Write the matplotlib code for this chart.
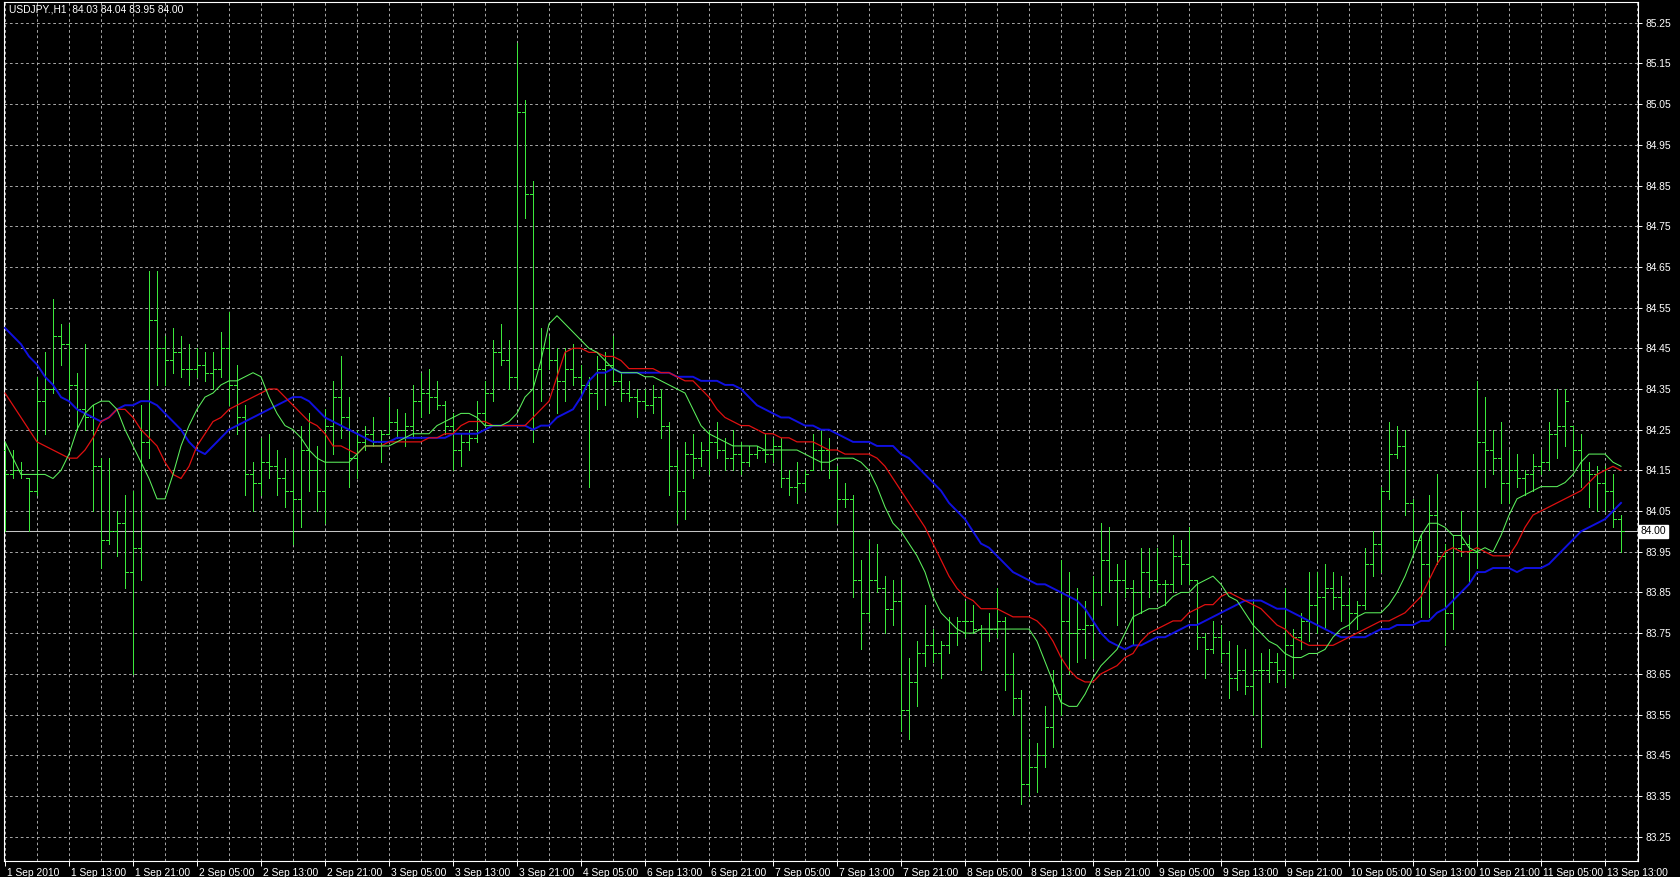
import matplotlib
matplotlib.use('Agg')
import matplotlib.pyplot as plt
import matplotlib.transforms as mtransforms
import numpy as np

# ---------------- data ----------------
highs = [84.22, 84.20, 84.17, 84.13, 84.38, 84.44, 84.57, 84.51, 84.51, 84.39,
         84.46, 84.31, 84.18, 84.18, 84.05, 84.09, 84.10, 84.31, 84.64, 84.64,
         84.48, 84.50, 84.48, 84.46, 84.45, 84.44, 84.44, 84.49, 84.54, 84.41,
         84.31, 84.17, 84.23, 84.24, 84.20, 84.18, 84.20, 84.26, 84.29, 84.21,
         84.30, 84.37, 84.43, 84.33, 84.25, 84.26, 84.28, 84.25, 84.33, 84.30,
         84.29, 84.36, 84.39, 84.40, 84.37, 84.32, 84.29, 84.24, 84.25, 84.32,
         84.37, 84.47, 84.51, 84.47, 85.20, 85.06, 84.86, 84.50, 84.48, 84.45,
         84.45, 84.46, 84.41, 84.38, 84.43, 84.44, 84.48, 84.39, 84.37, 84.35,
         84.35, 84.36, 84.35, 84.27, 84.20, 84.22, 84.24, 84.22, 84.25, 84.27,
         84.23, 84.25, 84.22, 84.21, 84.21, 84.24, 84.23, 84.23, 84.15, 84.17,
         84.15, 84.24, 84.25, 84.23, 84.16, 84.12, 84.09, 83.93, 83.98, 83.97,
         83.89, 83.88, 83.88, 83.69, 83.73, 83.82, 83.76, 83.73, 83.79, 83.79,
         83.83, 83.82, 83.77, 83.80, 83.86, 83.79, 83.70, 83.61, 83.49, 83.48,
         83.57, 83.66, 83.93, 83.90, 83.86, 83.83, 83.89, 84.02, 84.01, 83.92,
         83.93, 83.88, 83.96, 83.96, 83.96, 83.88, 83.99, 83.98, 84.01, 83.88,
         83.75, 83.78, 83.77, 83.73, 83.72, 83.71, 83.83, 83.70, 83.71, 83.70,
         83.86, 83.76, 83.80, 83.90, 83.90, 83.92, 83.90, 83.89, 83.86, 83.83,
         83.96, 84.00, 84.11, 84.27, 84.26, 84.25, 84.08, 83.99, 84.09, 84.14,
         83.97, 83.99, 84.05, 83.99, 84.37, 84.33, 84.25, 84.27, 84.20, 84.19,
         84.15, 84.19, 84.20, 84.27, 84.35, 84.35, 84.26, 84.24, 84.17, 84.16,
         84.16, 84.14, 84.04]

lows = [84.00, 84.13, 84.13, 84.00, 84.09, 84.24, 84.34, 84.41, 84.32, 84.25,
        84.25, 84.05, 83.91, 83.97, 83.94, 83.86, 83.65, 83.88, 84.18, 84.36,
        84.36, 84.39, 84.38, 84.36, 84.38, 84.37, 84.35, 84.38, 84.31, 84.24,
        84.09, 84.05, 84.09, 84.13, 84.09, 84.06, 83.97, 84.01, 84.10, 84.05,
        84.02, 84.19, 84.23, 84.11, 84.13, 84.20, 84.21, 84.17, 84.24, 84.23,
        84.21, 84.23, 84.28, 84.29, 84.30, 84.24, 84.15, 84.16, 84.20, 84.22,
        84.26, 84.32, 84.41, 84.35, 84.35, 84.77, 84.22, 84.32, 84.40, 84.29,
        84.32, 84.36, 84.33, 84.11, 84.30, 84.31, 84.36, 84.32, 84.32, 84.28,
        84.30, 84.29, 84.23, 84.09, 84.02, 84.03, 84.13, 84.16, 84.14, 84.18,
        84.15, 84.15, 84.14, 84.16, 84.18, 84.17, 84.17, 84.11, 84.09, 84.07,
        84.10, 84.15, 84.15, 84.13, 84.02, 84.06, 83.84, 83.71, 83.78, 83.85,
        83.75, 83.77, 83.51, 83.49, 83.57, 83.67, 83.68, 83.64, 83.70, 83.72,
        83.74, 83.75, 83.66, 83.73, 83.74, 83.61, 83.55, 83.33, 83.35, 83.36,
        83.42, 83.47, 83.55, 83.65, 83.68, 83.69, 83.69, 83.82, 83.85, 83.77,
        83.84, 83.72, 83.80, 83.84, 83.85, 83.82, 83.85, 83.87, 83.87, 83.71,
        83.64, 83.70, 83.68, 83.59, 83.61, 83.60, 83.55, 83.47, 83.63, 83.63,
        83.62, 83.64, 83.71, 83.73, 83.75, 83.76, 83.81, 83.78, 83.76, 83.76,
        83.81, 83.89, 83.90, 84.08, 84.18, 84.04, 83.95, 83.79, 83.79, 83.92,
        83.72, 83.76, 83.94, 83.87, 83.91, 84.11, 84.14, 84.07, 84.07, 84.11,
        84.09, 84.10, 84.14, 84.15, 84.18, 84.21, 84.15, 84.11, 84.06, 84.05,
        84.05, 84.01, 83.95]

opens = [84.20, 84.14, 84.15, 84.13, 84.10, 84.32, 84.35, 84.48, 84.46, 84.36,
         84.30, 84.28, 84.16, 83.98, 84.00, 84.02, 83.90, 83.96, 84.22, 84.52,
         84.45, 84.42, 84.44, 84.40, 84.40, 84.41, 84.39, 84.40, 84.45, 84.36,
         84.28, 84.14, 84.12, 84.17, 84.16, 84.13, 84.10, 84.08, 84.20, 84.15,
         84.10, 84.26, 84.33, 84.28, 84.18, 84.22, 84.24, 84.22, 84.24, 84.27,
         84.25, 84.26, 84.32, 84.34, 84.33, 84.31, 84.26, 84.20, 84.22, 84.23,
         84.29, 84.34, 84.44, 84.42, 84.38, 85.03, 84.83, 84.40, 84.45, 84.42,
         84.37, 84.40, 84.38, 84.36, 84.34, 84.40, 84.41, 84.37, 84.34, 84.33,
         84.32, 84.31, 84.33, 84.26, 84.16, 84.10, 84.19, 84.18, 84.20, 84.22,
         84.20, 84.18, 84.19, 84.17, 84.19, 84.20, 84.19, 84.21, 84.13, 84.11,
         84.12, 84.15, 84.20, 84.20, 84.15, 84.08, 84.08, 83.88, 83.80, 83.88,
         83.86, 83.81, 83.83, 83.56, 83.63, 83.70, 83.72, 83.70, 83.72, 83.75,
         83.78, 83.78, 83.76, 83.75, 83.76, 83.78, 83.65, 83.59, 83.38, 83.42,
         83.45, 83.52, 83.60, 83.78, 83.75, 83.76, 83.77, 83.85, 83.93, 83.88,
         83.88, 83.86, 83.85, 83.90, 83.88, 83.87, 83.87, 83.94, 83.92, 83.88,
         83.74, 83.71, 83.74, 83.70, 83.64, 83.66, 83.62, 83.66, 83.66, 83.68,
         83.66, 83.72, 83.74, 83.78, 83.82, 83.84, 83.86, 83.84, 83.82, 83.80,
         83.82, 83.92, 83.97, 84.10, 84.19, 84.21, 84.07, 83.98, 83.92, 84.04,
         83.94, 83.80, 83.96, 83.97, 83.95, 84.22, 84.20, 84.18, 84.12, 84.15,
         84.13, 84.14, 84.16, 84.17, 84.24, 84.26, 84.26, 84.20, 84.15, 84.14,
         84.12, 84.10, 84.03]

closes = [84.14, 84.15, 84.14, 84.10, 84.32, 84.35, 84.48, 84.46, 84.36, 84.30,
          84.28, 84.16, 83.98, 84.00, 84.02, 83.90, 83.96, 84.22, 84.52, 84.45,
          84.42, 84.44, 84.40, 84.40, 84.41, 84.39, 84.40, 84.45, 84.36, 84.28,
          84.14, 84.12, 84.17, 84.16, 84.13, 84.10, 84.08, 84.20, 84.15, 84.10,
          84.26, 84.33, 84.28, 84.18, 84.22, 84.24, 84.22, 84.24, 84.27, 84.25,
          84.26, 84.32, 84.34, 84.33, 84.31, 84.26, 84.20, 84.22, 84.23, 84.29,
          84.34, 84.44, 84.42, 84.38, 85.03, 84.83, 84.40, 84.45, 84.42, 84.37,
          84.40, 84.38, 84.36, 84.34, 84.40, 84.41, 84.37, 84.34, 84.33, 84.32,
          84.31, 84.33, 84.26, 84.16, 84.10, 84.19, 84.18, 84.20, 84.22, 84.20,
          84.18, 84.19, 84.17, 84.19, 84.20, 84.19, 84.21, 84.13, 84.11, 84.12,
          84.14, 84.20, 84.20, 84.15, 84.08, 84.08, 83.88, 83.80, 83.88, 83.86,
          83.81, 83.83, 83.56, 83.63, 83.70, 83.72, 83.70, 83.72, 83.75, 83.78,
          83.78, 83.76, 83.75, 83.76, 83.78, 83.65, 83.59, 83.38, 83.42, 83.45,
          83.52, 83.60, 83.78, 83.75, 83.76, 83.77, 83.85, 83.93, 83.88, 83.88,
          83.86, 83.85, 83.90, 83.88, 83.87, 83.87, 83.94, 83.92, 83.88, 83.74,
          83.71, 83.74, 83.70, 83.64, 83.66, 83.62, 83.66, 83.66, 83.68, 83.66,
          83.72, 83.74, 83.78, 83.82, 83.84, 83.86, 83.84, 83.82, 83.80, 83.82,
          83.92, 83.97, 84.10, 84.19, 84.21, 84.07, 83.98, 83.92, 84.04, 83.94,
          83.80, 83.96, 83.97, 83.95, 84.22, 84.20, 84.18, 84.12, 84.15, 84.13,
          84.14, 84.16, 84.17, 84.24, 84.26, 84.32, 84.20, 84.15, 84.14, 84.12,
          84.10, 84.03, 84.00]

ma_fast = [84.22, 84.18, 84.14, 84.14, 84.14, 84.14, 84.13, 84.15, 84.19, 84.25,
           84.29, 84.31, 84.32, 84.32, 84.30, 84.25, 84.21, 84.17, 84.13, 84.08,
           84.08, 84.14, 84.21, 84.26, 84.30, 84.33, 84.34, 84.36, 84.37, 84.37,
           84.38, 84.39, 84.38, 84.33, 84.29, 84.26, 84.25, 84.23, 84.20, 84.18,
           84.17, 84.17, 84.17, 84.17, 84.19, 84.21, 84.21, 84.21, 84.21, 84.22,
           84.23, 84.24, 84.24, 84.24, 84.26, 84.27, 84.28, 84.29, 84.29, 84.28,
           84.26, 84.26, 84.26, 84.27, 84.29, 84.33, 84.35, 84.42, 84.51, 84.53,
           84.51, 84.49, 84.47, 84.45, 84.44, 84.42, 84.40, 84.39, 84.39, 84.39,
           84.38, 84.38, 84.37, 84.36, 84.35, 84.34, 84.30, 84.26, 84.24, 84.23,
           84.22, 84.21, 84.21, 84.21, 84.21, 84.20, 84.20, 84.20, 84.20, 84.20,
           84.19, 84.18, 84.17, 84.17, 84.18, 84.18, 84.18, 84.17, 84.15, 84.11,
           84.06, 84.02, 84.00, 83.97, 83.94, 83.90, 83.84, 83.80, 83.78, 83.76,
           83.75, 83.75, 83.76, 83.76, 83.76, 83.76, 83.76, 83.76, 83.76, 83.73,
           83.68, 83.63, 83.58, 83.57, 83.57, 83.60, 83.64, 83.67, 83.69, 83.71,
           83.75, 83.79, 83.80, 83.81, 83.81, 83.82, 83.84, 83.85, 83.85, 83.87,
           83.88, 83.89, 83.87, 83.84, 83.83, 83.80, 83.77, 83.75, 83.73, 83.72,
           83.70, 83.69, 83.69, 83.70, 83.70, 83.71, 83.74, 83.76, 83.77, 83.79,
           83.80, 83.80, 83.80, 83.82, 83.85, 83.89, 83.94, 83.99, 84.02, 84.02,
           84.01, 83.99, 83.99, 83.96, 83.95, 83.96, 83.95, 83.99, 84.04, 84.08,
           84.09, 84.10, 84.11, 84.11, 84.11, 84.12, 84.14, 84.17, 84.19, 84.19,
           84.19, 84.17, 84.16]

ma_mid = [84.34, 84.31, 84.28, 84.25, 84.22, 84.21, 84.20, 84.19, 84.18, 84.18,
          84.20, 84.23, 84.27, 84.28, 84.30, 84.30, 84.28, 84.25, 84.23, 84.21,
          84.17, 84.14, 84.13, 84.16, 84.21, 84.24, 84.27, 84.28, 84.30, 84.31,
          84.32, 84.33, 84.34, 84.35, 84.35, 84.33, 84.31, 84.29, 84.27, 84.26,
          84.24, 84.21, 84.21, 84.20, 84.19, 84.21, 84.21, 84.21, 84.22, 84.22,
          84.22, 84.22, 84.22, 84.23, 84.23, 84.24, 84.24, 84.26, 84.27, 84.27,
          84.27, 84.26, 84.26, 84.26, 84.26, 84.26, 84.28, 84.30, 84.32, 84.38,
          84.44, 84.45, 84.45, 84.44, 84.44, 84.43, 84.43, 84.42, 84.40, 84.40,
          84.40, 84.40, 84.39, 84.39, 84.38, 84.37, 84.37, 84.35, 84.33, 84.30,
          84.28, 84.27, 84.26, 84.26, 84.25, 84.24, 84.24, 84.23, 84.23, 84.22,
          84.22, 84.22, 84.21, 84.20, 84.20, 84.19, 84.19, 84.19, 84.19, 84.18,
          84.16, 84.13, 84.10, 84.07, 84.04, 84.01, 83.97, 83.93, 83.89, 83.86,
          83.84, 83.83, 83.81, 83.81, 83.81, 83.80, 83.79, 83.79, 83.79, 83.78,
          83.76, 83.73, 83.69, 83.66, 83.64, 83.63, 83.63, 83.65, 83.66, 83.67,
          83.69, 83.70, 83.73, 83.75, 83.76, 83.77, 83.78, 83.78, 83.80, 83.81,
          83.82, 83.82, 83.84, 83.85, 83.84, 83.83, 83.82, 83.81, 83.79, 83.77,
          83.76, 83.74, 83.73, 83.72, 83.72, 83.72, 83.72, 83.73, 83.74, 83.75,
          83.76, 83.77, 83.78, 83.78, 83.79, 83.80, 83.82, 83.84, 83.88, 83.92,
          83.95, 83.96, 83.95, 83.95, 83.96, 83.95, 83.94, 83.94, 83.94, 83.97,
          84.01, 84.04, 84.05, 84.06, 84.07, 84.08, 84.09, 84.10, 84.12, 84.14,
          84.15, 84.16, 84.15]

ma_slow = [84.50, 84.48, 84.46, 84.43, 84.41, 84.38, 84.36, 84.33, 84.32, 84.30,
           84.29, 84.28, 84.27, 84.28, 84.30, 84.31, 84.31, 84.32, 84.32, 84.31,
           84.29, 84.27, 84.25, 84.22, 84.20, 84.19, 84.21, 84.23, 84.25, 84.26,
           84.27, 84.28, 84.29, 84.30, 84.31, 84.32, 84.33, 84.33, 84.32, 84.30,
           84.28, 84.27, 84.26, 84.25, 84.24, 84.23, 84.22, 84.22, 84.22, 84.23,
           84.23, 84.23, 84.23, 84.23, 84.23, 84.23, 84.24, 84.24, 84.24, 84.24,
           84.25, 84.26, 84.26, 84.26, 84.26, 84.26, 84.25, 84.26, 84.26, 84.28,
           84.29, 84.30, 84.33, 84.37, 84.39, 84.39, 84.40, 84.39, 84.39, 84.39,
           84.39, 84.39, 84.39, 84.39, 84.38, 84.38, 84.38, 84.37, 84.37, 84.37,
           84.36, 84.36, 84.35, 84.33, 84.31, 84.30, 84.29, 84.28, 84.28, 84.27,
           84.26, 84.26, 84.25, 84.25, 84.24, 84.23, 84.22, 84.22, 84.22, 84.21,
           84.21, 84.21, 84.19, 84.18, 84.16, 84.14, 84.12, 84.10, 84.07, 84.05,
           84.03, 84.00, 83.97, 83.96, 83.94, 83.92, 83.90, 83.89, 83.88, 83.87,
           83.87, 83.86, 83.85, 83.84, 83.83, 83.81, 83.78, 83.75, 83.73, 83.72,
           83.71, 83.72, 83.72, 83.73, 83.74, 83.74, 83.75, 83.76, 83.77, 83.77,
           83.78, 83.79, 83.80, 83.81, 83.82, 83.83, 83.83, 83.83, 83.82, 83.81,
           83.81, 83.80, 83.79, 83.78, 83.77, 83.76, 83.75, 83.74, 83.74, 83.74,
           83.74, 83.75, 83.76, 83.76, 83.77, 83.77, 83.77, 83.78, 83.78, 83.80,
           83.81, 83.83, 83.85, 83.87, 83.90, 83.90, 83.91, 83.91, 83.91, 83.90,
           83.91, 83.91, 83.91, 83.92, 83.94, 83.96, 83.98, 84.00, 84.01, 84.02,
           84.03, 84.05, 84.07]

time_labels = ['1 Sep 2010', '1 Sep 13:00', '1 Sep 21:00', '2 Sep 05:00', '2 Sep 13:00',
               '2 Sep 21:00', '3 Sep 05:00', '3 Sep 13:00', '3 Sep 21:00', '4 Sep 05:00',
               '6 Sep 13:00', '6 Sep 21:00', '7 Sep 05:00', '7 Sep 13:00', '7 Sep 21:00',
               '8 Sep 05:00', '8 Sep 13:00', '8 Sep 21:00', '9 Sep 05:00', '9 Sep 13:00',
               '9 Sep 21:00', '10 Sep 05:00', '10 Sep 13:00', '10 Sep 21:00', '11 Sep 05:00',
               '13 Sep 13:00']

price_ticks = [83.25, 83.35, 83.45, 83.55, 83.65, 83.75, 83.85, 83.95, 84.05, 84.15,
               84.25, 84.35, 84.45, 84.55, 84.65, 84.75, 84.85, 84.95, 85.05, 85.15, 85.25]

title_text = 'USDJPY.,H1  84.03 84.04 83.95 84.00'
bid_price = 84.00

# ---------------- styling ----------------
W, H = 1680, 877
BAR_COL = '#3be83b'
FAST_COL = '#5cf05c'
MID_COL = '#e01010'
SLOW_COL = '#1010e0'
GRID_COL = '#b4b4b4'
FONT = 'Liberation Sans'
FS = 7.4

fig = plt.figure(figsize=(W / 100, H / 100), dpi=100, facecolor='black')
ax = fig.add_axes([4 / W, 16 / H, 1634 / W, 859 / H], facecolor='black')

n = len(highs)
x = np.arange(n)
bars_per_label = 8
tick_half = 0.32
BAR_LW = 0.72  # one pixel

ax.vlines(x, lows, highs, colors=BAR_COL, linewidth=BAR_LW, antialiased=False, zorder=3)
ax.hlines(opens, x - tick_half, x, colors=BAR_COL, linewidth=BAR_LW, antialiased=False, zorder=3)
ax.hlines(closes, x, x + tick_half, colors=BAR_COL, linewidth=BAR_LW, antialiased=False, zorder=3)

ax.plot(x, ma_slow, color=SLOW_COL, linewidth=1.4, zorder=4)
ax.plot(x, ma_mid, color=MID_COL, linewidth=0.9, zorder=5)
ax.plot(x, ma_fast, color=FAST_COL, linewidth=0.75, zorder=6)

ax.axhline(bid_price, color='#c4c4c4', linewidth=0.75, zorder=2)

ax.set_xlim(-0.125, 204.125)
ax.set_ylim(83.190, 85.301)

label_pos = [bars_per_label * k for k in range(len(time_labels))]
ax.set_xticks(label_pos)
ax.set_xticklabels(time_labels, fontsize=FS, color='white', family=FONT)
for lab in ax.get_xticklabels():
    lab.set_horizontalalignment('left')
ax.set_xticks([p + 4 for p in label_pos], minor=True)
ax.tick_params(axis='x', which='major', direction='out', length=3.5, width=0.7,
               color='white', pad=1.5)
ax.tick_params(axis='x', which='minor', length=0)
offset = mtransforms.ScaledTranslation(1.5 / 72, 0, fig.dpi_scale_trans)
for lab in ax.get_xticklabels():
    lab.set_transform(lab.get_transform() + offset)

ax.yaxis.tick_right()
ax.set_yticks(price_ticks)
ax.set_yticklabels([f'{p:.2f}' for p in price_ticks], fontsize=FS, color='white', family=FONT)
ax.tick_params(axis='y', direction='out', length=3, width=0.7, color='white', pad=2.5)

ax.grid(True, axis='x', which='both', color=GRID_COL, linestyle=(0, (3, 3)), linewidth=0.65, zorder=1)
ax.grid(True, axis='y', which='major', color=GRID_COL, linestyle=(0, (3, 3)), linewidth=0.65, zorder=1)
ax.set_axisbelow(True)

for sp in ax.spines.values():
    sp.set_color('white')
    sp.set_linewidth(0.8)

# bid price label on the price scale
trans = mtransforms.blended_transform_factory(ax.transAxes, ax.transData)
ax.text(1.0 + 2.5 / 1634, bid_price, f'{bid_price:.2f}', transform=trans, ha='left', va='center',
        fontsize=FS, color='black', family=FONT, zorder=10, clip_on=False,
        bbox=dict(boxstyle='square,pad=0.15', facecolor='white', edgecolor='white'))

fig.text(9 / W, 1 - 9.5 / H, title_text, ha='left', va='center', color='white',
         fontsize=FS, family=FONT)

fig.savefig('out.png', dpi=100, facecolor='black')
